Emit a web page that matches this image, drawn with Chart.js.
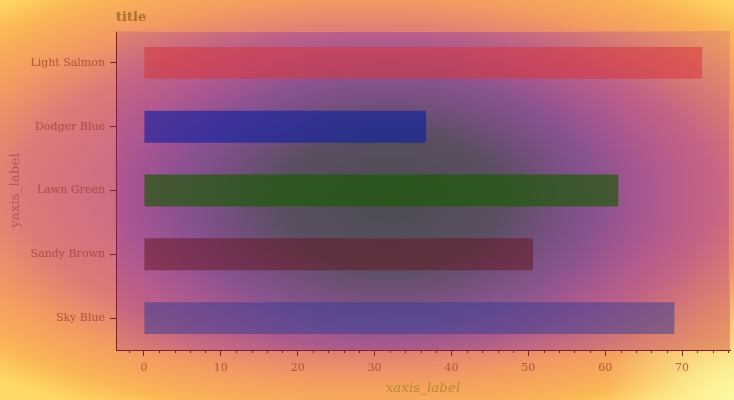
<!DOCTYPE html>
<html>
<head>
<meta charset="utf-8">
<script src="https://cdn.jsdelivr.net/npm/chart.js@4/dist/chart.umd.min.js"></script>
<style>
  html, body { margin: 0; padding: 0; background: #f6a45c; }
  #caja { width: 734px; height: 400px; }
</style>
</head>
<body>
<div id="caja"><canvas id="grafico" width="734" height="400"></canvas></div>
<script>
// datos del grafico
const categorias = ['Light Salmon', 'Dodger Blue', 'Lawn Green', 'Sandy Brown', 'Sky Blue'];
const valores = [72.6, 36.7, 61.7, 50.6, 69.0];
const colores = [
    'rgba(215, 55, 60, 0.55)',
    'rgba(10, 30, 160, 0.6)',
    'rgba(25, 90, 0, 0.65)',
    'rgba(100, 20, 30, 0.5)',
    'rgba(50, 60, 145, 0.5)'
];
const ticksX = [0, 10, 20, 30, 40, 50, 60, 70];
const ticksMenores = [-2, 2, 4, 6, 8, 12, 14, 16, 18, 22, 24, 26, 28, 32, 34, 36, 38,
    42, 44, 46, 48, 52, 54, 56, 58, 62, 64, 66, 68, 72, 74, 76];

const FUENTE = "'DejaVu Serif', serif";
const COLOR_EJE = '#7a2035';
const COLOR_TEXTO = 'rgba(160, 60, 45, 0.75)';

// fondo: degradado de la figura y degradado del area del grafico
const fondo = {
    id: 'fondo',
    beforeDraw(chart) {
        const { ctx, width, height, chartArea: a } = chart;
        ctx.save();
        // figura
        ctx.save();
        ctx.translate(367, 190);
        ctx.scale(1, 250 / 560);
        let g = ctx.createRadialGradient(0, 0, 0, 0, 0, 560);
        g.addColorStop(0, '#b05890');
        g.addColorStop(0.4, '#c86888');
        g.addColorStop(0.62, '#dc7a78');
        g.addColorStop(0.76, '#f29a62');
        g.addColorStop(0.9, '#fbb555');
        g.addColorStop(1, '#ffd865');
        ctx.fillStyle = g;
        ctx.fillRect(-700, -1200, 1400, 2400);
        ctx.restore();
        // esquina inferior derecha mas clara (solo fuera del area)
        ctx.save();
        ctx.beginPath();
        ctx.rect(0, 0, width, height);
        ctx.rect(a.left, a.top, a.right - a.left, a.bottom - a.top);
        ctx.clip('evenodd');
        let g2 = ctx.createRadialGradient(734, 400, 0, 734, 400, 130);
        g2.addColorStop(0, 'rgba(250, 255, 175, 0.85)');
        g2.addColorStop(1, 'rgba(250, 255, 175, 0)');
        ctx.fillStyle = g2;
        ctx.fillRect(0, 0, width, height);
        ctx.restore();
        // area del grafico
        ctx.save();
        ctx.beginPath();
        ctx.rect(a.left, a.top, a.right - a.left, a.bottom - a.top);
        ctx.clip();
        ctx.translate(390, 200);
        ctx.scale(1, 230 / 380);
        const k = 380 / 440;
        let g3 = ctx.createRadialGradient(0, 0, 0, 0, 0, 440);
        g3.addColorStop(0, 'rgba(70, 75, 80, 0.95)');
        g3.addColorStop(0.3 * k, 'rgba(78, 76, 92, 0.88)');
        g3.addColorStop(0.55 * k, 'rgba(105, 70, 150, 0.65)');
        g3.addColorStop(0.72 * k, 'rgba(140, 60, 160, 0.45)');
        g3.addColorStop(0.9 * k, 'rgba(160, 60, 150, 0.32)');
        g3.addColorStop(1, 'rgba(180, 70, 140, 0.2)');
        ctx.fillStyle = g3;
        ctx.fillRect(-600, -900, 1200, 1800);
        ctx.restore();
        ctx.restore();
    },
    afterDraw(chart) {
        const { ctx, chartArea: a, scales } = chart;
        ctx.save();
        // bordes claros arriba y a la derecha
        ctx.strokeStyle = 'rgba(240, 150, 110, 0.7)';
        ctx.lineWidth = 1;
        ctx.beginPath();
        ctx.moveTo(a.left, a.top + 0.5);
        ctx.lineTo(a.right - 0.5, a.top + 0.5);
        ctx.lineTo(a.right - 0.5, a.bottom);
        ctx.stroke();
        // ticks menores del eje x
        ctx.strokeStyle = COLOR_EJE;
        ctx.beginPath();
        ticksMenores.forEach(v => {
            const x = Math.round(scales.x.getPixelForValue(v)) + 0.5;
            ctx.moveTo(x, a.bottom);
            ctx.lineTo(x, a.bottom + 3);
        });
        ctx.stroke();
        // titulo
        ctx.fillStyle = '#a8702a';
        ctx.font = "bold 13px " + FUENTE;
        ctx.textBaseline = 'middle';
        ctx.textAlign = 'left';
        ctx.fillText('title', a.left, 18);
        ctx.restore();
    }
};

const ctx = document.getElementById('grafico').getContext('2d');
const chart = new Chart(ctx, {
    type: 'bar',
    data: {
        labels: categorias,
        datasets: [{
            data: valores,
            backgroundColor: colores,
            borderWidth: 0,
            barPercentage: 0.5,
            categoryPercentage: 1
        }]
    },
    options: {
        indexAxis: 'y',
        responsive: false,
        animation: false,
        layout: { padding: { top: 31, right: 4, left: 0, bottom: 0 } },
        plugins: {
            legend: { display: false },
            tooltip: { enabled: false }
        },
        scales: {
            x: {
                type: 'linear',
                min: -3.63,
                max: 76.23,
                afterFit: (s) => { s.height = 50; },
                afterBuildTicks: (s) => { s.ticks = ticksX.map(v => ({ value: v })); },
                ticks: {
                    font: { family: FUENTE, size: 11 },
                    color: COLOR_TEXTO,
                    padding: 6,
                    maxRotation: 0
                },
                grid: {
                    drawOnChartArea: false,
                    tickLength: 6,
                    tickColor: COLOR_EJE
                },
                border: { color: COLOR_EJE, width: 1 },
                title: {
                    display: true,
                    text: 'xaxis_label',
                    color: '#bb8a2e',
                    font: { family: FUENTE, size: 13.5, style: 'italic' },
                    padding: { top: 0, bottom: 3 }
                }
            },
            y: {
                afterFit: (s) => { s.width = 116; },
                ticks: {
                    font: { family: FUENTE, size: 11 },
                    color: COLOR_TEXTO,
                    padding: 5
                },
                grid: {
                    drawOnChartArea: false,
                    offset: false,
                    tickLength: 6,
                    tickColor: COLOR_EJE
                },
                border: { color: COLOR_EJE, width: 1 },
                title: {
                    display: true,
                    text: 'yaxis_label',
                    color: '#b05a60',
                    font: { family: FUENTE, size: 13.5 },
                    padding: { top: 7, bottom: 0 }
                }
            }
        }
    },
    plugins: [fondo]
});
</script>
</body>
</html>
